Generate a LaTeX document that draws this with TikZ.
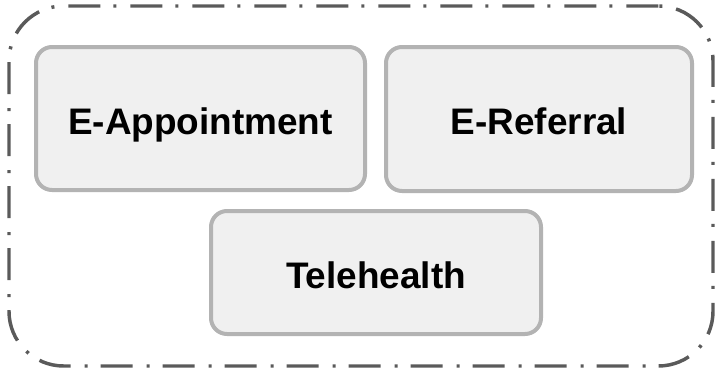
\documentclass[tikz,border=0pt]{standalone}
\usepackage{fontspec}
\setmainfont{Liberation Sans}
\definecolor{frameline}{HTML}{5A5A5A}
\definecolor{boxline}{HTML}{B3B3B3}
\definecolor{boxfill}{HTML}{F0F0F0}
\begin{document}
\begin{tikzpicture}[x=0.75pt,y=-0.75pt,
  service/.style={draw=boxline, fill=boxfill, line width=3pt,
    rounded corners=12pt, inner sep=0pt,
    text height=23.6pt, text depth=0pt,
    font=\fontsize{27.7}{32}\selectfont\bfseries},
  container/.style={draw=frameline, line width=2.6pt, rounded corners=41pt,
    inner sep=0pt, minimum width=528pt, minimum height=270pt,
    dash pattern=on 24pt off 10.5pt on 2.25pt off 9.75pt}]
  \useasboundingbox (0,0) rectangle (718,371);
  % dash-dotted frame around the services
  \node[container] (frame) at (361,186) {};
  % service boxes
  \node[service, minimum width=246.75pt, minimum height=107.25pt]
    (appt) at (200.5,118.5) {E-Appointment};
  \node[service, minimum width=229.5pt, minimum height=108pt]
    (ref) at (539,119) {E-Referral};
  \node[service, minimum width=247.5pt, minimum height=92.25pt]
    (tele) at (376,272.5) {Telehealth};
\end{tikzpicture}
\end{document}
